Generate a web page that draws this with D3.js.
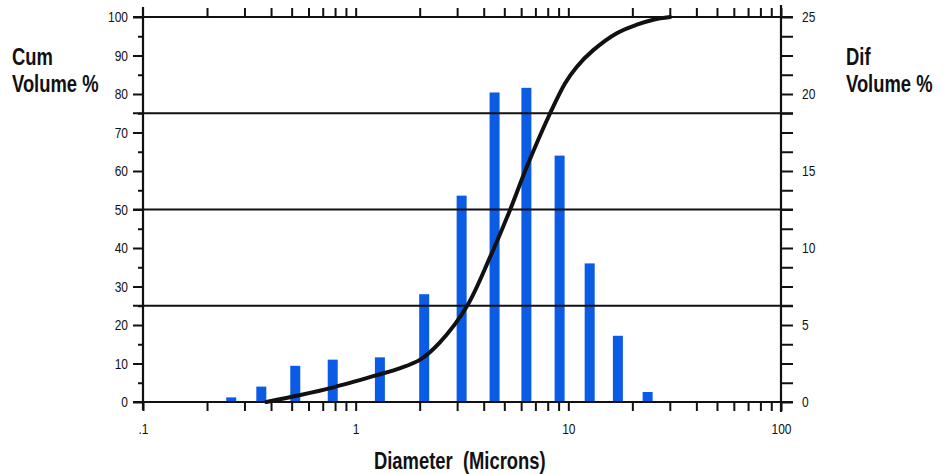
<!DOCTYPE html>
<html>
<head>
<meta charset="utf-8">
<script src="https://cdn.jsdelivr.net/npm/d3@7"></script>
<style>
  html, body { margin: 0; padding: 0; background: #fff; }
  svg { display: block; }
  text { font-family: "Liberation Sans", Arial, Helvetica, sans-serif; fill: #111; }
  .title { font-weight: bold; }
</style>
</head>
<body>
<svg id="chart" width="950" height="474"></svg>
<script>
// Differential volume histogram (right axis, %), bars at channel diameters (microns)
const diameters = [0.26, 0.36, 0.52, 0.78, 1.3, 2.1, 3.15, 4.5, 6.35, 9.1, 12.6, 17.1, 23.6];
const difVolume = [0.3, 1.0, 2.35, 2.75, 2.9, 7.0, 13.4, 20.1, 20.4, 16.0, 9.0, 4.3, 0.65];

// Cumulative volume curve (left axis, %)
const cumDiameters = [0.38, 0.55, 0.785, 1.26, 1.62, 2.01, 2.49, 3.33, 4.29, 5.32, 6.38, 8.21, 9.66, 10.97, 13.1, 16.9, 21.0, 25.1, 30.1];
const cumVolume = [0, 1.8, 3.8, 7.0, 8.8, 11.0, 15.5, 24.8, 37.7, 49.9, 61.1, 75, 82.8, 87.1, 91.4, 95.8, 98.0, 99.3, 100];

// Tick labels
const cumTickLabels = [0, 10, 20, 30, 40, 50, 60, 70, 80, 90, 100];
const cumMinorTicks = [5, 15, 25, 35, 45, 55, 65, 75, 85, 95];
const difTickLabels = [0, 5, 10, 15, 20, 25];
const difTicks = [0, 1.25, 2.5, 3.75, 5, 6.25, 7.5, 8.75, 10, 11.25, 12.5, 13.75, 15, 16.25, 17.5, 18.75, 20, 21.25, 22.5, 23.75, 25];
const diameterTickLabels = [0.1, 1, 10, 100];
const diameterLabelText = [".1", "1", "10", "100"];
const cumGridLines = [0, 25, 50, 75, 100];

const svg = d3.select("#chart");
const plotLeft = 143, plotRight = 781, plotTop = 17, plotBottom = 402;
const ink = "#111";
const barColor = "#0b5ce4";

const x = d3.scaleLog().domain([0.1, 100]).range([plotLeft, plotRight]);
const yL = d3.scaleLinear().domain([0, 100]).range([plotBottom, plotTop]);
const yR = d3.scaleLinear().domain([0, 25]).range([plotBottom, plotTop]);

// Squeeze text horizontally about its anchor point (condensed face look)
function condense(sel, k) {
  sel.each(function () {
    const x0 = +(this.getAttribute("x") || 0);
    this.setAttribute("transform", `translate(${x0},0) scale(${k},1) translate(${-x0},0)`);
  });
}

// Bars
svg.append("g").selectAll("rect")
  .data(diameters.map((d, i) => ({ d, v: difVolume[i] })))
  .join("rect")
  .attr("x", p => x(p.d) - 5)
  .attr("width", 10)
  .attr("y", p => yR(p.v))
  .attr("height", p => yR(0) - yR(p.v))
  .attr("fill", barColor);

// Horizontal reference lines at quartiles
svg.append("g").selectAll("line")
  .data(cumGridLines)
  .join("line")
  .attr("x1", plotLeft - 10).attr("x2", plotRight + 12)
  .attr("y1", d => yL(d)).attr("y2", d => yL(d))
  .attr("stroke", ink).attr("stroke-width", 1.8);

function styleAxis(g) {
  g.select(".domain").remove();
  g.selectAll(".tick line").attr("stroke", ink).attr("stroke-width", 2);
  g.selectAll(".tick text").attr("font-size", "15px").attr("fill", ink).call(condense, 0.8);
}

// Left axis
svg.append("g").attr("transform", `translate(${plotLeft},0)`)
  .call(d3.axisLeft(yL).tickValues(cumTickLabels).tickSize(10).tickPadding(5).tickFormat(d3.format("d")))
  .call(styleAxis);
svg.append("g").attr("transform", `translate(${plotLeft},0)`)
  .call(d3.axisLeft(yL).tickValues(cumMinorTicks).tickSize(5).tickFormat(""))
  .call(styleAxis);

// Right axis
svg.append("g").attr("transform", `translate(${plotRight},0)`)
  .call(d3.axisRight(yR).tickValues(difTicks).tickSize(12).tickPadding(9)
    .tickFormat(d => difTickLabels.includes(d) ? String(d) : ""))
  .call(styleAxis);

// Bottom axis
const logTicks = x.ticks();
svg.append("g").attr("transform", `translate(0,${plotBottom})`)
  .call(d3.axisBottom(x).tickValues(logTicks).tickSize(9).tickPadding(12)
    .tickFormat(d => {
      const i = diameterTickLabels.findIndex(t => Math.abs(t - d) < 1e-9);
      return i >= 0 ? diameterLabelText[i] : "";
    }))
  .call(styleAxis);

// Top axis
svg.append("g").attr("transform", `translate(0,${plotTop})`)
  .call(d3.axisTop(x).tickValues(logTicks.filter(d => d > 0.1)).tickSize(9).tickFormat(""))
  .call(styleAxis);

// Axis spines
svg.append("line").attr("x1", plotLeft).attr("x2", plotLeft).attr("y1", 7).attr("y2", 410)
  .attr("stroke", ink).attr("stroke-width", 2.2);
svg.append("line").attr("x1", plotRight).attr("x2", plotRight).attr("y1", 5).attr("y2", 412)
  .attr("stroke", ink).attr("stroke-width", 2.2);

// Cumulative curve
const line = d3.line()
  .x((d, i) => x(cumDiameters[i]))
  .y(d => yL(d))
  .curve(d3.curveCatmullRom.alpha(0.5));
svg.append("path")
  .datum(cumVolume)
  .attr("d", line)
  .attr("fill", "none")
  .attr("stroke", ink)
  .attr("stroke-width", 4)
  .attr("stroke-linecap", "round");

// Titles
const titles = svg.append("g");
[["Cum", 12, 65], ["Volume %", 12, 92], ["Dif", 846, 65], ["Volume %", 846, 92]].forEach(([t, tx, ty]) => {
  titles.append("text").attr("class", "title").attr("x", tx).attr("y", ty)
    .attr("font-size", "23px").text(t);
});
titles.append("text").attr("class", "title")
  .attr("x", 374).attr("y", 469)
  .attr("font-size", "23px")
  .attr("xml:space", "preserve")
  .text("Diameter  (Microns)");
titles.selectAll("text").call(condense, 0.8);
</script>
</body>
</html>
